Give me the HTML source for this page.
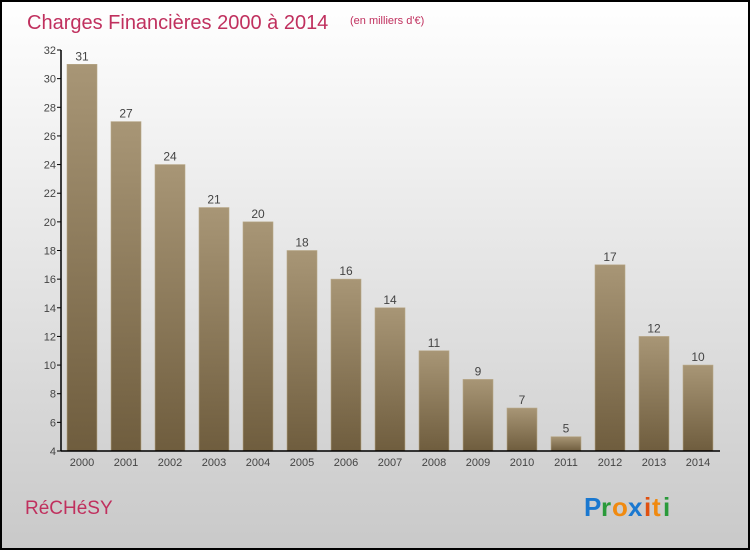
<!DOCTYPE html>
<html><head><meta charset="utf-8"><style>
body{margin:0;width:750px;height:550px;overflow:hidden;font-family:"Liberation Sans",sans-serif}
</style></head><body>
<svg width="750" height="550" xmlns="http://www.w3.org/2000/svg">
<defs>
<linearGradient id="bg" x1="0" y1="0" x2="0" y2="1"><stop offset="0" stop-color="#ffffff"/><stop offset="1" stop-color="#c9c9c9"/></linearGradient>
<linearGradient id="bar" x1="0" y1="0" x2="0" y2="1"><stop offset="0" stop-color="#a89676"/><stop offset="1" stop-color="#6f5d3e"/></linearGradient>
</defs>
<rect x="1" y="1" width="748" height="548" fill="url(#bg)" stroke="#000" stroke-width="2"/>
<text x="27" y="29" font-size="20" fill="#c0305e">Charges Financières 2000 à 2014</text>
<text x="350" y="24" font-size="11" fill="#c0305e">(en milliers d'€)</text>
<g id="plot"></g>
<text x="25" y="514" font-size="19" fill="#c0305e">RéCHéSY</text>
<g font-size="26" font-weight="bold">
<text x="584" y="516" fill="#1a78d0">P</text><text x="601" y="516" fill="#2a9a3a">r</text><text x="612" y="516" fill="#f08a10">o</text><text x="628" y="516" fill="#1a78d0">x</text><text x="644" y="516" fill="#e05010">i</text><text x="652" y="516" fill="#f08a10">t</text><text x="663" y="516" fill="#2a9a3a">i</text>
</g>
</svg>
<script>
const years=["2000","2001","2002","2003","2004","2005","2006","2007","2008","2009","2010","2011","2012","2013","2014"];
const values=[31,27,24,21,20,18,16,14,11,9,7,5,17,12,10];
const yTicks=[4,6,8,10,12,14,16,18,20,22,24,26,28,30,32];
const NS="http://www.w3.org/2000/svg";
const plotG=document.getElementById('plot');
const yMin=4,yMax=32,plotTop=50,plotBot=451;
function yScale(v){return plotBot-(v-yMin)/(yMax-yMin)*(plotBot-plotTop);}
function xScale(i){return 82+i*44;}
function mk(t,a){const e=document.createElementNS(NS,t);for(const k in a)e.setAttribute(k,a[k]);plotG.appendChild(e);return e;}
yTicks.forEach(t=>{
  const l=mk('line',{x1:57,x2:61,y1:yScale(t),y2:yScale(t),stroke:'#000'});
  
  
  const tx=mk('text',{x:56,y:yScale(t)+4,'text-anchor':'end','font-size':11,fill:'#444'});
  tx.textContent=t;
  
  
});
values.forEach((v,i)=>{
  const r=mk('rect',{x:xScale(i)-15,y:yScale(v),width:30,height:plotBot-yScale(v),fill:'url(#bar)',stroke:'#b8a888','stroke-width':0.6});
  
  
  const t=mk('text',{x:xScale(i),y:yScale(v)-4,'text-anchor':'middle','font-size':12,fill:'#444'});
  t.textContent=v;
  
  
  const xl=mk('text',{x:xScale(i),y:plotBot+15,'text-anchor':'middle','font-size':11,fill:'#444'});
  xl.textContent=years[i];
  
  
});
const ya=mk('line',{x1:61,x2:61,y1:plotTop,y2:plotBot,stroke:'#000','stroke-width':1.5});


const xa=mk('line',{x1:61,x2:720,y1:plotBot,y2:plotBot,stroke:'#000','stroke-width':1.5});


</script>
</body></html>
